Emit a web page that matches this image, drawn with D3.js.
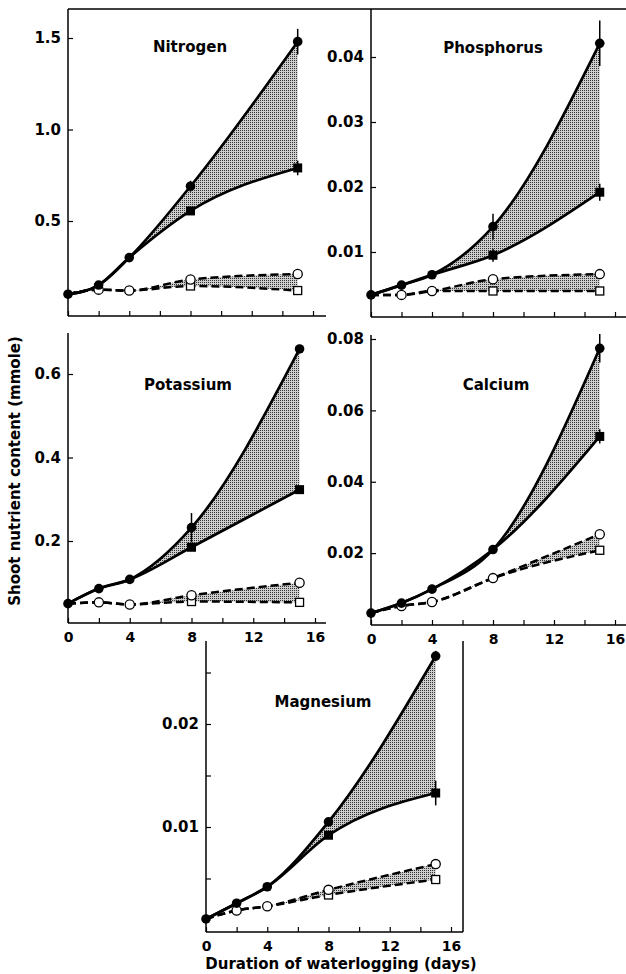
<!DOCTYPE html>
<html>
<head>
<meta charset="utf-8">
<script src="https://cdn.jsdelivr.net/npm/d3@7"></script>
<style>
  body { margin: 0; background: #fff; }
  svg text { font-family: "DejaVu Sans", sans-serif; font-weight: bold; fill: #000; }
</style>
</head>
<body>
<div id="chart"></div>
<script>
// sampling days
var days = [0, 2, 4, 8, 15];

// Nitrogen
var nitrogenSolidCircle = [0.10, 0.15, 0.30, 0.69, 1.48];
var nitrogenSolidSquare = [0.10, 0.15, 0.30, 0.555, 0.79];
var nitrogenOpenCircle  = [0.10, 0.125, 0.12, 0.18, 0.21];
var nitrogenOpenSquare  = [0.10, 0.125, 0.12, 0.145, 0.12];
var nitrogenErrors = [["sc", 15, 0.07], ["ss", 15, 0.04], ["sc", 8, 0.03]];
var nitrogenTicks = [0.5, 1.0, 1.5];

// Phosphorus
var phosphorusSolidCircle = [0.0034, 0.0049, 0.0065, 0.0139, 0.0421];
var phosphorusSolidSquare = [0.0034, 0.0049, 0.0065, 0.0095, 0.0192];
var phosphorusOpenCircle  = [0.0034, 0.0034, 0.0040, 0.0058, 0.0066];
var phosphorusOpenSquare  = [0.0034, 0.0034, 0.0040, 0.0040, 0.0040];
var phosphorusErrors = [["sc", 15, 0.0035], ["ss", 15, 0.0013], ["sc", 8, 0.002], ["ss", 8, 0.001]];
var phosphorusTicks = [0.01, 0.02, 0.03, 0.04];

// Potassium
var potassiumSolidCircle = [0.05, 0.086, 0.108, 0.232, 0.66];
var potassiumSolidSquare = [0.05, 0.086, 0.108, 0.185, 0.323];
var potassiumOpenCircle  = [0.05, 0.053, 0.048, 0.07, 0.10];
var potassiumOpenSquare  = [0.05, 0.053, 0.048, 0.055, 0.053];
var potassiumErrors = [["sc", 8, 0.035], ["sc", 15, 0.01]];
var potassiumTicks = [0.2, 0.4, 0.6];

// Calcium
var calciumSolidCircle = [0.0032, 0.006, 0.0099, 0.021, 0.0774];
var calciumSolidSquare = [0.0032, 0.006, 0.0099, 0.021, 0.0527];
var calciumOpenCircle  = [0.0032, 0.0052, 0.0063, 0.013, 0.0253];
var calciumOpenSquare  = [0.0032, 0.0052, 0.0063, 0.013, 0.0208];
var calciumErrors = [["sc", 15, 0.004], ["ss", 15, 0.002]];
var calciumTicks = [0.02, 0.04, 0.06, 0.08];

// Magnesium
var magnesiumSolidCircle = [0.00107, 0.0026, 0.0042, 0.0105, 0.0266];
var magnesiumSolidSquare = [0.00107, 0.0026, 0.0042, 0.0092, 0.0133];
var magnesiumOpenCircle  = [0.00107, 0.0019, 0.0023, 0.0039, 0.0064];
var magnesiumOpenSquare  = [0.00107, 0.0019, 0.0023, 0.0034, 0.0049];
var magnesiumErrors = [["sc", 15, 0.0005], ["ss", 15, 0.0012]];
var magnesiumTicks = [0.005, 0.01, 0.015, 0.02, 0.025];
var magnesiumLabelled = [0.01, 0.02];

var dayTicks = [0, 2, 4, 6, 8, 10, 12, 14, 16];

var width = 626, height = 974;

var svg = d3.select("#chart").append("svg")
    .attr("width", width)
    .attr("height", height);

// stipple fill for the shaded bands
var pat = svg.append("defs").append("pattern")
    .attr("id", "stipple")
    .attr("width", 2).attr("height", 2)
    .attr("patternUnits", "userSpaceOnUse");
pat.append("rect").attr("width", 2).attr("height", 2).attr("fill", "#cdcdcd");
pat.append("rect").attr("width", 1).attr("height", 1).attr("fill", "#333");

// layout of each panel (page pixels)
var panels = [
    { name: "Nitrogen", sc: nitrogenSolidCircle, ss: nitrogenSolidSquare, oc: nitrogenOpenCircle, os: nitrogenOpenSquare,
      err: nitrogenErrors, ticks: nitrogenTicks, fmt: d3.format(".1f"),
      x0: 68, x16: 313, xEnd: 326, yTop: 9, yBot: 316, yDom: [0, 1.5], yRange: [312.5, 38],
      title: [190, 52], xLabels: false },
    { name: "Phosphorus", sc: phosphorusSolidCircle, ss: phosphorusSolidSquare, oc: phosphorusOpenCircle, os: phosphorusOpenSquare,
      err: phosphorusErrors, ticks: phosphorusTicks, fmt: d3.format(".2f"),
      x0: 371, x16: 615, xEnd: 626, yTop: 9, yBot: 317, yDom: [0, 0.04], yRange: [317, 57],
      title: [493, 53], xLabels: false },
    { name: "Potassium", sc: potassiumSolidCircle, ss: potassiumSolidSquare, oc: potassiumOpenCircle, os: potassiumOpenSquare,
      err: potassiumErrors, ticks: potassiumTicks, fmt: d3.format(".1f"),
      x0: 68, x16: 315, xEnd: 326, yTop: 333, yBot: 623, yDom: [0, 0.6], yRange: [624.5, 374],
      title: [188, 390], xLabels: true },
    { name: "Calcium", sc: calciumSolidCircle, ss: calciumSolidSquare, oc: calciumOpenCircle, os: calciumOpenSquare,
      err: calciumErrors, ticks: calciumTicks, fmt: d3.format(".2f"),
      x0: 371, x16: 615, xEnd: 626, yTop: 335, yBot: 625, yDom: [0, 0.08], yRange: [624.5, 339],
      title: [496, 390], xLabels: true },
    { name: "Magnesium", sc: magnesiumSolidCircle, ss: magnesiumSolidSquare, oc: magnesiumOpenCircle, os: magnesiumOpenSquare,
      err: magnesiumErrors, ticks: magnesiumTicks, labelled: magnesiumLabelled, fmt: d3.format(".2f"),
      x0: 206, x16: 451, xEnd: 463, yTop: 641, yBot: 932, yDom: [0, 0.02], yRange: [930, 724],
      title: [323, 707], xLabels: true, rightBorder: true }
];

// shared top border of the two upper panels
svg.append("line")
    .attr("x1", 68).attr("x2", 626).attr("y1", 9).attr("y2", 9)
    .attr("stroke", "#000").attr("stroke-width", 1.5);

panels.forEach(function(p) {
    var x = d3.scaleLinear().domain([0, 16]).range([p.x0, p.x16]);
    var y = d3.scaleLinear().domain(p.yDom).range(p.yRange);
    var g = svg.append("g").classed("panel", true);

    var line = function(vals) {
        return d3.line().curve(d3.curveMonotoneX)
            .x(function(d, i) { return x(days[i]); })
            .y(function(d) { return y(d); })(vals);
    };
    var band = function(lo, hi) {
        return d3.area().curve(d3.curveMonotoneX)
            .x(function(d, i) { return x(days[i]); })
            .y0(function(d, i) { return y(lo[i]); })
            .y1(function(d, i) { return y(hi[i]); })(days);
    };

    // shaded bands
    g.append("path").attr("d", band(p.ss, p.sc)).attr("fill", "url(#stipple)");
    g.append("path").attr("d", band(p.os, p.oc)).attr("fill", "url(#stipple)");

    // dashed lines (open symbols)
    [p.os, p.oc].forEach(function(v) {
        g.append("path").attr("d", line(v))
            .attr("fill", "none").attr("stroke", "#000")
            .attr("stroke-width", 2.5).attr("stroke-dasharray", "8,4");
    });
    // solid lines (closed symbols)
    [p.ss, p.sc].forEach(function(v) {
        g.append("path").attr("d", line(v))
            .attr("fill", "none").attr("stroke", "#000")
            .attr("stroke-width", 2.7);
    });

    // error bars
    g.selectAll("line.err").data(p.err).enter().append("line")
        .attr("class", "err")
        .attr("x1", function(d) { return x(d[1]); })
        .attr("x2", function(d) { return x(d[1]); })
        .attr("y1", function(d) { return y(p[d[0]][days.indexOf(d[1])] - d[2]); })
        .attr("y2", function(d) { return y(p[d[0]][days.indexOf(d[1])] + d[2]); })
        .attr("stroke", "#000").attr("stroke-width", 1.5);

    // markers: only where a symbol is not hidden under its partner
    var idx = days.map(function(d, i) { return i; });
    var osIdx = idx.filter(function(i) { return p.os[i] !== p.oc[i]; });
    var ocIdx = idx.filter(function(i) { return i > 0; });
    var ssIdx = idx.filter(function(i) { return p.ss[i] !== p.sc[i]; });

    g.selectAll("rect.os").data(osIdx).enter().append("rect")
        .attr("class", "os")
        .attr("x", function(i) { return x(days[i]) - 4; })
        .attr("y", function(i) { return y(p.os[i]) - 4; })
        .attr("width", 8).attr("height", 8)
        .attr("fill", "#fff").attr("stroke", "#000").attr("stroke-width", 1.3);
    g.selectAll("circle.oc").data(ocIdx).enter().append("circle")
        .attr("class", "oc")
        .attr("cx", function(i) { return x(days[i]); })
        .attr("cy", function(i) { return y(p.oc[i]); })
        .attr("r", 4.6)
        .attr("fill", "#fff").attr("stroke", "#000").attr("stroke-width", 1.3);
    g.selectAll("rect.ss").data(ssIdx).enter().append("rect")
        .attr("class", "ss")
        .attr("x", function(i) { return x(days[i]) - 4.5; })
        .attr("y", function(i) { return y(p.ss[i]) - 4.5; })
        .attr("width", 9).attr("height", 9)
        .attr("fill", "#000");
    g.selectAll("circle.sc").data(idx).enter().append("circle")
        .attr("class", "sc")
        .attr("cx", function(i) { return x(days[i]); })
        .attr("cy", function(i) { return y(p.sc[i]); })
        .attr("r", 4.8)
        .attr("fill", "#000");

    // axes
    var xAxis = d3.axisBottom(x)
        .tickValues(dayTicks)
        .tickSizeInner(-5).tickSizeOuter(0).tickPadding(7)
        .tickFormat(function(d) { return (p.xLabels && d % 4 === 0) ? d : ""; });
    var gx = g.append("g").attr("transform", "translate(0," + p.yBot + ")").call(xAxis);
    gx.select(".domain").remove();
    gx.selectAll("text").style("font-size", "14px").attr("dy", "0.85em");
    gx.selectAll("line").attr("stroke-width", 1.2);

    var labelled = p.labelled || p.ticks;
    var yAxis = d3.axisLeft(y)
        .tickValues(p.ticks)
        .tickSizeInner(-5).tickSizeOuter(0).tickPadding(7)
        .tickFormat(function(d) { return labelled.indexOf(d) >= 0 ? p.fmt(d) : ""; });
    var gy = g.append("g").attr("transform", "translate(" + p.x0 + ",0)").call(yAxis);
    gy.select(".domain").remove();
    gy.selectAll("text").style("font-size", "15px");
    gy.selectAll("line").attr("stroke-width", 1.2);

    g.append("line")
        .attr("x1", p.x0).attr("x2", p.xEnd).attr("y1", p.yBot).attr("y2", p.yBot)
        .attr("stroke", "#000").attr("stroke-width", 1.5);
    g.append("line")
        .attr("x1", p.x0).attr("x2", p.x0).attr("y1", p.yTop).attr("y2", p.yBot)
        .attr("stroke", "#000").attr("stroke-width", 1.5);
    if (p.rightBorder) {
        g.append("line")
            .attr("x1", p.xEnd).attr("x2", p.xEnd).attr("y1", p.yTop).attr("y2", p.yBot)
            .attr("stroke", "#000").attr("stroke-width", 1.5);
    }

    g.append("text")
        .attr("x", p.title[0]).attr("y", p.title[1])
        .attr("text-anchor", "middle")
        .style("font-size", "15px")
        .text(p.name);
});

svg.append("text")
    .attr("transform", "translate(20,471) rotate(-90)")
    .attr("text-anchor", "middle")
    .style("font-size", "15px")
    .text("Shoot nutrient content (mmole)");

svg.append("text")
    .attr("x", 341).attr("y", 969)
    .attr("text-anchor", "middle")
    .style("font-size", "15px")
    .text("Duration of waterlogging (days)");
</script>
</body>
</html>
